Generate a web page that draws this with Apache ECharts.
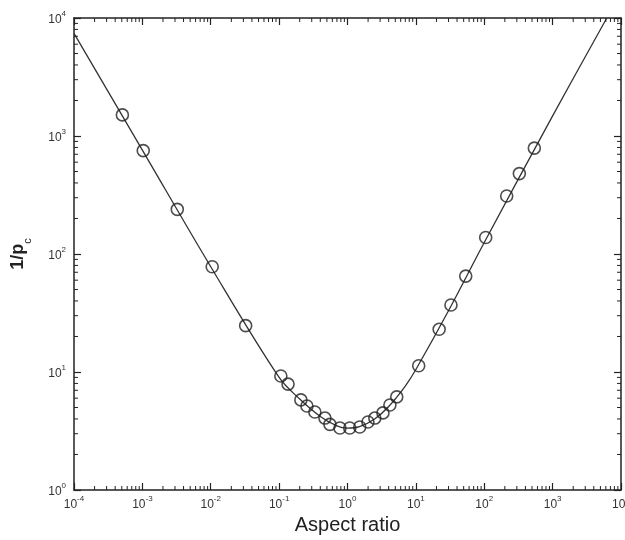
<!DOCTYPE html>
<html>
<head>
<meta charset="utf-8">
<script src="https://cdn.jsdelivr.net/npm/echarts@6/dist/echarts.min.js"></script>
<style>
html,body{margin:0;padding:0;background:#fff;}
#c{width:625px;height:540px;}
</style>
</head>
<body>
<div id="c"></div>
<script>
// ---- data ----
const aspectRatio = [5.1e-4, 1.03e-3, 3.24e-3, 1.05e-2, 3.24e-2, 0.106, 0.135, 0.208, 0.255, 0.333, 0.468, 0.553, 0.775, 1.08, 1.51, 1.99, 2.51, 3.3, 4.17, 5.25, 11, 21.9, 32.6, 53.6, 105, 213, 326, 540];
const invPc = [1510, 751, 239, 78, 24.7, 9.25, 7.9, 5.8, 5.15, 4.58, 4.07, 3.6, 3.35, 3.35, 3.42, 3.77, 4.07, 4.5, 5.25, 6.15, 11.3, 23, 37, 65, 138, 310, 480, 790];
const curveX = [1e-4, 1e-3, 1e-2, 0.1, 0.2, 0.4, 0.7, 1.0, 1.5, 2.5, 4, 7, 10, 30, 100, 1000, 6200];
const curveY = [7400, 760, 78, 9.0, 5.9, 4.2, 3.5, 3.35, 3.45, 4.0, 5.1, 7.6, 10.5, 33, 125, 1480, 10000];
const xRange = [1e-4, 1e4];
const yRange = [1, 1e4];
const minorMultipliers = [2, 3, 4, 5, 6, 7, 8, 9];
const xDecades = [-4, -3, -2, -1, 0, 1, 2, 3];
const yDecades = [0, 1, 2, 3];
const xTitle = 'Aspect ratio';

// ---- build ----
const scatterData = aspectRatio.map((x, i) => [x, invPc[i]]);
const curveData = curveX.map((x, i) => [x, curveY[i]]);
const xMinor = [];
xDecades.forEach(d => minorMultipliers.forEach(m => xMinor.push([m * Math.pow(10, d), yRange[0]])));
const yMinor = [];
yDecades.forEach(d => minorMultipliers.forEach(m => yMinor.push([xRange[0], m * Math.pow(10, d)])));

const FONT = '"Liberation Sans", Arial, sans-serif';
const INK = '#222';
const MINOR_LEN = 4;

function powLabel(v) {
  const e = Math.round(Math.log10(v));
  return '{b|10}{s|' + e + '}';
}
const richLab = {
  b: {fontSize: 12, color: '#333', fontFamily: FONT, lineHeight: 16, verticalAlign: 'bottom'},
  s: {fontSize: 8, color: '#333', fontFamily: FONT, lineHeight: 16, verticalAlign: 'top', padding: [0, 0, 6, 0]}
};

const axisLineStyle = {lineStyle: {color: INK, width: 1.5}};
const tickStyle = {show: true, inside: true, length: 7, lineStyle: {color: INK, width: 1.2}};

const chart = echarts.init(document.getElementById('c'), null, {renderer: 'canvas'});
chart.setOption({
  backgroundColor: '#fff',
  animation: false,
  grid: {left: 74, right: 4, top: 18, bottom: 50, outerBoundsMode: 'none', containLabel: false},
  xAxis: [{
    type: 'log', logBase: 10, min: xRange[0], max: xRange[1], splitNumber: 8,
    position: 'bottom',
    axisLine: axisLineStyle, axisTick: tickStyle, splitLine: {show: false},
    axisLabel: {formatter: powLabel, rich: richLab, margin: 5},
    name: xTitle, nameLocation: 'middle', nameGap: 22,
    nameTextStyle: {fontSize: 20, color: '#222', fontFamily: FONT}
  }, {
    type: 'log', logBase: 10, min: xRange[0], max: xRange[1], splitNumber: 8,
    position: 'top',
    axisLine: axisLineStyle, axisTick: tickStyle, splitLine: {show: false},
    axisLabel: {show: false}
  }],
  yAxis: [{
    type: 'log', logBase: 10, min: yRange[0], max: yRange[1], splitNumber: 4,
    position: 'left',
    axisLine: axisLineStyle, axisTick: tickStyle, splitLine: {show: false},
    axisLabel: {formatter: powLabel, rich: richLab, margin: 8},
    name: '{m|1/p}{c|c}', nameLocation: 'middle', nameGap: 41, nameRotate: 90,
    nameTextStyle: {
      rich: {
        m: {fontSize: 18, color: '#222', fontFamily: FONT, fontWeight: 'bold', lineHeight: 30, verticalAlign: 'middle'},
        c: {fontSize: 11, color: '#222', fontFamily: FONT, lineHeight: 30, verticalAlign: 'bottom'}
      }
    }
  }, {
    type: 'log', logBase: 10, min: yRange[0], max: yRange[1], splitNumber: 4,
    position: 'right',
    axisLine: axisLineStyle, axisTick: tickStyle, splitLine: {show: false},
    axisLabel: {show: false}
  }],
  series: [{
    type: 'line', data: curveData, smooth: 0.35, showSymbol: false, silent: true,
    lineStyle: {color: '#333', width: 1.3}, z: 2
  }, {
    type: 'scatter', data: scatterData, symbol: 'circle', symbolSize: 12,
    itemStyle: {color: 'rgba(255,255,255,0)', borderColor: '#222', borderWidth: 1.6}, z: 3
  }, {
    type: 'custom', data: xMinor, silent: true, z: 4,
    renderItem: function (params, api) {
      const v = api.value(0);
      const b = api.coord([v, yRange[0]]);
      const t = api.coord([v, yRange[1]]);
      return {type: 'group', children: [
        {type: 'line', shape: {x1: b[0], y1: b[1], x2: b[0], y2: b[1] - MINOR_LEN}, style: {stroke: INK, lineWidth: 1}},
        {type: 'line', shape: {x1: t[0], y1: t[1], x2: t[0], y2: t[1] + MINOR_LEN}, style: {stroke: INK, lineWidth: 1}}
      ]};
    }
  }, {
    type: 'custom', data: yMinor, silent: true, z: 4,
    renderItem: function (params, api) {
      const v = api.value(1);
      const l = api.coord([xRange[0], v]);
      const r = api.coord([xRange[1], v]);
      return {type: 'group', children: [
        {type: 'line', shape: {x1: l[0], y1: l[1], x2: l[0] + MINOR_LEN, y2: l[1]}, style: {stroke: INK, lineWidth: 1}},
        {type: 'line', shape: {x1: r[0], y1: r[1], x2: r[0] - MINOR_LEN, y2: r[1]}, style: {stroke: INK, lineWidth: 1}}
      ]};
    }
  }]
});
</script>
</body>
</html>
